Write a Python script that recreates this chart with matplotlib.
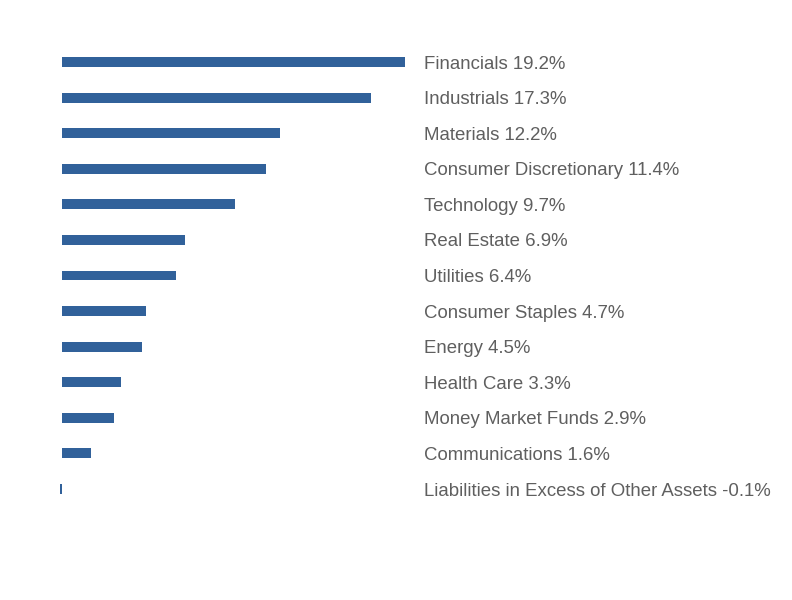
import matplotlib
matplotlib.use('Agg')
import matplotlib.pyplot as plt
from matplotlib.transforms import offset_copy

sectors = ["Financials", "Industrials", "Materials", "Consumer Discretionary",
           "Technology", "Real Estate", "Utilities", "Consumer Staples",
           "Energy", "Health Care", "Money Market Funds", "Communications",
           "Liabilities in Excess of Other Assets"]
weights = [19.2, 17.3, 12.2, 11.4, 9.7, 6.9, 6.4, 4.7, 4.5, 3.3, 2.9, 1.6, -0.1]

BAR_COLOR = '#31619a'
TEXT_COLOR = '#5f5f5f'

fig = plt.figure(figsize=(7.92, 6.0), dpi=100)
# axes placed so that 0% sits at x=62px and labels start at x=424px
px_per_pct = (405 - 62) / 19.2
ax = fig.add_axes([62 / 792, 1 - 506.8 / 600, (424 - 62) / 792, (506.8 - 44.2) / 600])

y = list(range(len(sectors)))
ax.barh(y, weights, height=0.28, color=BAR_COLOR, clip_on=False)
ax.set_xlim(0, (424 - 62) / px_per_pct)
ax.set_ylim(len(sectors) - 0.5, -0.5)

# nudge labels a touch lower, like the reference
label_tf = offset_copy(ax.get_yaxis_transform(), fig=fig, x=0, y=-1.5, units='points')
for i, (name, w) in enumerate(zip(sectors, weights)):
    ax.text(1.0, i, f"{name} {w:.1f}%", transform=label_tf,
            ha='left', va='center', fontsize=13.4, color=TEXT_COLOR,
            family='Liberation Sans')

ax.axis('off')
fig.savefig('out.png', dpi=100)
